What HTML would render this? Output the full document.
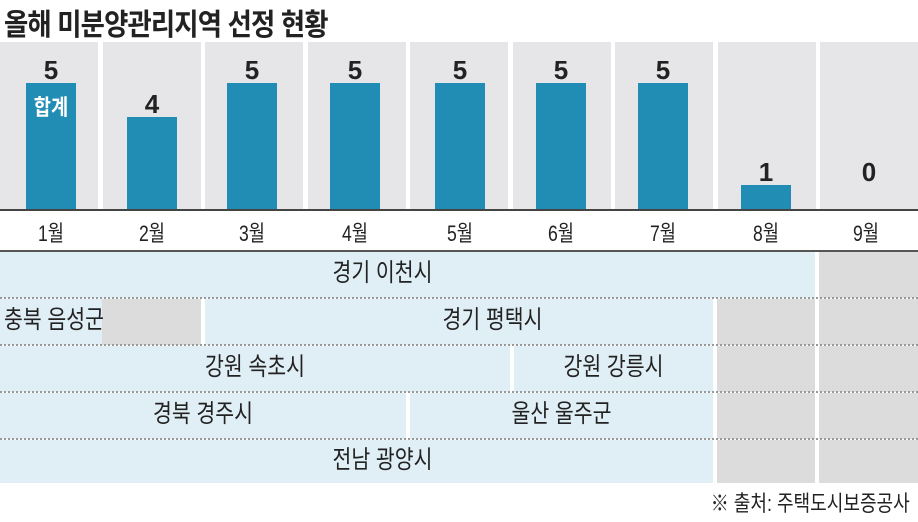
<!DOCTYPE html>
<html><head><meta charset="utf-8"><style>
body{margin:0;width:918px;height:522px;background:#fff;position:relative;overflow:hidden;font-family:"Liberation Sans","Noto Sans CJK KR",sans-serif;}
div{position:absolute;}
.col{top:42px;height:168px;background:#e6e6e8;width:98px;}
.bar{background:#218db5;width:50px;}
.v{font-weight:bold;font-size:26px;color:#222;width:98px;text-align:center;}
.m{top:216px;font-size:22px;color:#222;width:98px;text-align:center;transform:scaleX(0.8);}
.b{background:#e0eef6;}
.g{background:#dcdcdc;}
.t{font-size:25px;color:#222;text-align:center;line-height:46px;transform:scaleX(0.82);}
.dot{height:0;border-top:2px dotted #999;left:0;width:918px;}
</style></head><body>
<div style="left:4px;top:0px;font-size:30px;font-weight:bold;color:#222;letter-spacing:-1px;transform:scaleX(0.88);transform-origin:left;">올해 미분양관리지역 선정 현황</div>

<div class="col" style="left:0px"></div>
<div class="col" style="left:103px"></div>
<div class="col" style="left:205px"></div>
<div class="col" style="left:308px"></div>
<div class="col" style="left:410px"></div>
<div class="col" style="left:513px"></div>
<div class="col" style="left:615px"></div>
<div class="col" style="left:718px"></div>
<div class="col" style="left:820px"></div>

<div class="bar" style="left:26px;top:83px;height:127px"></div>
<div class="bar" style="left:127px;top:117px;height:93px"></div>
<div class="bar" style="left:227px;top:83px;height:127px"></div>
<div class="bar" style="left:330px;top:83px;height:127px"></div>
<div class="bar" style="left:435px;top:83px;height:127px"></div>
<div class="bar" style="left:536px;top:83px;height:127px"></div>
<div class="bar" style="left:638px;top:83px;height:127px"></div>
<div class="bar" style="left:741px;top:185px;height:25px"></div>

<div class="v" style="left:2px;top:55px">5</div>
<div style="left:26px;top:90px;width:50px;text-align:center;color:#fff;font-weight:bold;font-size:22px;transform:scaleX(0.85);">합계</div>
<div class="v" style="left:103px;top:89px">4</div>
<div class="v" style="left:203px;top:55px">5</div>
<div class="v" style="left:306px;top:55px">5</div>
<div class="v" style="left:411px;top:55px">5</div>
<div class="v" style="left:512px;top:55px">5</div>
<div class="v" style="left:614px;top:55px">5</div>
<div class="v" style="left:717px;top:157px">1</div>
<div class="v" style="left:820px;top:157px">0</div>

<div style="left:0;top:209px;width:918px;height:2px;background:#444"></div>
<div class="m" style="left:2px">1월</div>
<div class="m" style="left:103px">2월</div>
<div class="m" style="left:203px">3월</div>
<div class="m" style="left:306px">4월</div>
<div class="m" style="left:411px">5월</div>
<div class="m" style="left:512px">6월</div>
<div class="m" style="left:614px">7월</div>
<div class="m" style="left:717px">8월</div>
<div class="m" style="left:817px">9월</div>
<div style="left:0;top:250px;width:918px;height:2px;background:#555"></div>

<div class="b" style="left:0;top:252px;width:815px;height:46px"></div>
<div class="g" style="left:819px;top:252px;width:99px;height:46px"></div>
<div class="b" style="left:0;top:299px;width:102px;height:46px"></div>
<div class="g" style="left:102px;top:299px;width:99px;height:46px"></div>
<div class="b" style="left:205px;top:299px;width:508px;height:46px"></div>
<div class="g" style="left:717px;top:299px;width:98px;height:46px"></div>
<div class="g" style="left:819px;top:299px;width:99px;height:46px"></div>
<div class="b" style="left:0;top:346px;width:510px;height:46px"></div>
<div class="b" style="left:514px;top:346px;width:199px;height:46px"></div>
<div class="g" style="left:717px;top:346px;width:98px;height:46px"></div>
<div class="g" style="left:819px;top:346px;width:99px;height:46px"></div>
<div class="b" style="left:0;top:393px;width:406px;height:46px"></div>
<div class="b" style="left:410px;top:393px;width:303px;height:46px"></div>
<div class="g" style="left:717px;top:393px;width:98px;height:46px"></div>
<div class="g" style="left:819px;top:393px;width:99px;height:46px"></div>
<div class="b" style="left:0;top:440px;width:713px;height:43px"></div>
<div class="g" style="left:717px;top:440px;width:98px;height:43px"></div>
<div class="g" style="left:819px;top:440px;width:99px;height:43px"></div>

<div class="dot" style="top:297px"></div>
<div class="dot" style="top:344px"></div>
<div class="dot" style="top:391px"></div>
<div class="dot" style="top:438px"></div>

<div class="t" style="left:0;top:250px;width:765px;">경기 이천시</div>
<div class="t" style="left:4px;top:297px;text-align:left;transform-origin:left;">충북 음성군</div>
<div class="t" style="left:205px;top:297px;width:575px;">경기 평택시</div>
<div class="t" style="left:0;top:344px;width:510px;">강원 속초시</div>
<div class="t" style="left:514px;top:344px;width:199px;">강원 강릉시</div>
<div class="t" style="left:0;top:391px;width:406px;">경북 경주시</div>
<div class="t" style="left:410px;top:391px;width:303px;">울산 울주군</div>
<div class="t" style="left:0;top:437px;width:765px;">전남 광양시</div>

<div style="right:8px;top:486px;font-size:22px;color:#222;transform:scaleX(0.82);transform-origin:right;">※ 출처: 주택도시보증공사</div>
</body></html>
